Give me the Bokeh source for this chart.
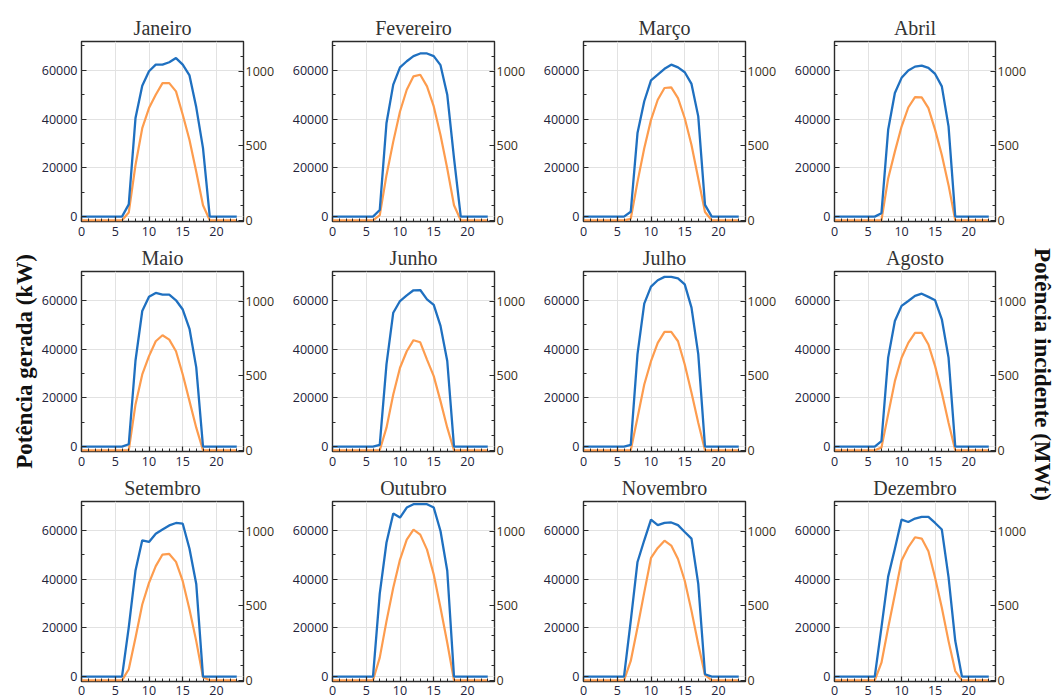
import math
from bokeh.plotting import figure
from bokeh.models import Range1d, LinearAxis, SingleIntervalTicker, Title
from bokeh.core.properties import value
from bokeh.layouts import column, row
from bokeh.embed import file_html
from bokeh.resources import INLINE

# ---------------- data ----------------
hours = list(range(24))
months = ["Janeiro", "Fevereiro", "Março", "Abril", "Maio", "Junho",
          "Julho", "Agosto", "Setembro", "Outubro", "Novembro", "Dezembro"]

# Potência gerada (kW) -- left axis (blue)
gerada_jan = [0, 0, 0, 0, 0, 0, 0, 5000, 40400, 53700, 59600, 62300, 62300, 63300, 65000, 62300, 57900, 44800, 28100, 0, 0, 0, 0, 0]
gerada_fev = [0, 0, 0, 0, 0, 0, 0, 2700, 38400, 54100, 61200, 63700, 65800, 66900, 66900, 65800, 62100, 50000, 24000, 0, 0, 0, 0, 0]
gerada_mar = [0, 0, 0, 0, 0, 0, 0, 2000, 34250, 47300, 55900, 58200, 60600, 62300, 61200, 59200, 54400, 41100, 4800, 0, 0, 0, 0, 0]
gerada_abr = [0, 0, 0, 0, 0, 0, 0, 1400, 35600, 50700, 56900, 59900, 61500, 61900, 61000, 58500, 53400, 37000, 0, 0, 0, 0, 0, 0]
gerada_mai = [0, 0, 0, 0, 0, 0, 0, 960, 35300, 55600, 61400, 63000, 62300, 62300, 60000, 56200, 48300, 32500, 0, 0, 0, 0, 0, 0]
gerada_jun = [0, 0, 0, 0, 0, 0, 0, 700, 33800, 54900, 59700, 62000, 64100, 64200, 60400, 58100, 49500, 35100, 0, 0, 0, 0, 0, 0]
gerada_jul = [0, 0, 0, 0, 0, 0, 0, 700, 37900, 58600, 65600, 68200, 69600, 69600, 69000, 66500, 57000, 37900, 0, 0, 0, 0, 0, 0]
gerada_ago = [0, 0, 0, 0, 0, 0, 0, 2300, 36500, 51500, 57700, 59700, 61800, 62700, 61400, 60000, 52200, 36500, 0, 0, 0, 0, 0, 0]
gerada_set = [0, 0, 0, 0, 0, 0, 0, 20200, 43500, 55900, 55200, 58600, 60300, 62000, 63000, 62700, 52400, 38000, 0, 0, 0, 0, 0, 0]
gerada_out = [0, 0, 0, 0, 0, 0, 0, 34000, 55000, 66900, 65200, 69300, 70700, 70700, 70700, 69300, 59700, 43400, 0, 0, 0, 0, 0, 0]
gerada_nov = [0, 0, 0, 0, 0, 0, 0, 22900, 47000, 55900, 64400, 62100, 63000, 63200, 62100, 59300, 56600, 38000, 960, 0, 0, 0, 0, 0]
gerada_dez = [0, 0, 0, 0, 0, 0, 0, 20200, 41000, 52400, 64400, 63400, 64800, 65500, 65500, 63000, 60300, 40800, 14700, 0, 0, 0, 0, 0]

# Potência incidente (MWt) -- right axis (orange)
incid_jan = [0, 0, 0, 0, 0, 0, 0, 52, 371, 618, 753, 843, 921, 921, 865, 708, 539, 326, 101, 0, 0, 0, 0, 0]
incid_fev = [0, 0, 0, 0, 0, 0, 0, 34, 303, 528, 730, 876, 966, 977, 899, 764, 573, 348, 101, 0, 0, 0, 0, 0]
incid_mar = [0, 0, 0, 0, 0, 0, 0, 10, 258, 483, 674, 809, 888, 892, 820, 685, 506, 281, 56, 0, 0, 0, 0, 0]
incid_abr = [0, 0, 0, 0, 0, 0, 0, 0, 281, 461, 629, 757, 827, 825, 753, 607, 438, 236, 0, 0, 0, 0, 0, 0]
incid_mai = [0, 0, 0, 0, 0, 0, 0, 0, 308, 509, 632, 732, 772, 743, 665, 509, 330, 152, 0, 0, 0, 0, 0, 0]
incid_jun = [0, 0, 0, 0, 0, 0, 0, 0, 152, 375, 554, 665, 739, 725, 609, 498, 330, 152, 0, 0, 0, 0, 0, 0]
incid_jul = [0, 0, 0, 0, 0, 0, 0, 0, 219, 442, 598, 721, 795, 795, 732, 576, 386, 185, 0, 0, 0, 0, 0, 0]
incid_ago = [0, 0, 0, 0, 0, 0, 0, 18, 241, 464, 621, 721, 788, 788, 710, 565, 386, 185, 0, 0, 0, 0, 0, 0]
incid_set = [0, 0, 0, 0, 0, 0, 0, 74, 286, 509, 654, 766, 844, 848, 795, 665, 475, 263, 20, 0, 0, 0, 0, 0]
incid_out = [0, 0, 0, 0, 0, 0, 0, 152, 397, 621, 810, 944, 1011, 978, 877, 710, 487, 252, 0, 0, 0, 0, 0, 0]
incid_nov = [0, 0, 0, 0, 0, 0, 0, 130, 354, 590, 821, 888, 937, 904, 814, 668, 466, 242, 36, 0, 0, 0, 0, 0]
incid_dez = [0, 0, 0, 0, 0, 0, 0, 118, 353, 576, 804, 893, 960, 951, 866, 688, 487, 263, 62, 0, 0, 0, 0, 0]

gerada = [gerada_jan, gerada_fev, gerada_mar, gerada_abr, gerada_mai, gerada_jun,
          gerada_jul, gerada_ago, gerada_set, gerada_out, gerada_nov, gerada_dez]
incidente = [incid_jan, incid_fev, incid_mar, incid_abr, incid_mai, incid_jun,
             incid_jul, incid_ago, incid_set, incid_out, incid_nov, incid_dez]

left_label = "Potência gerada (kW)"
right_label = "Potência incidente (MWt)"

# ---------------- layout / style ----------------
X_RANGE = (0, 24)
YL_RANGE = (-2000, 71800)
YR_RANGE = (-8, 1200)

W_FRAME = 162
H_FRAME = 180
B_LEFT = [81, 44, 44, 44]
B_RIGHT = [45, 45, 45, 33]
B_TOP = [41, 30, 30]
B_BOTTOM = [20, 20, 19]
X_STANDOFF = [5, 5, 4]
TITLE_SHIFT = [-4, 0, -1, 8, -5, -3, -7, 6, 0, -1.5, -3, 7]
RIGHT_STRIP_W = 25
TOTAL_H = 700

BLUE = "#1f70c0"
ORANGE = "#fd9c4e"
FRAME = "#2b2b2b"
GRID = "#e2e2e2"
TICK_FONT = "Open Sans"
TICK_SIZE = "12.5px"


def style_axis(ax, color, standoff):
    ax.axis_line_color = None
    ax.major_tick_in = 5
    ax.major_tick_out = 0
    ax.minor_tick_in = 3
    ax.minor_tick_out = 0
    ax.major_tick_line_color = FRAME
    ax.minor_tick_line_color = FRAME
    ax.major_tick_line_width = 1.2
    ax.minor_tick_line_width = 1.0
    ax.major_label_text_font = TICK_FONT
    ax.major_label_text_font_size = TICK_SIZE
    ax.major_label_text_color = color
    ax.major_label_standoff = standoff


def make_panel(i):
    r, c = divmod(i, 4)
    p = figure(width=B_LEFT[c] + W_FRAME + B_RIGHT[c],
               height=B_TOP[r] + H_FRAME + B_BOTTOM[r],
               x_range=Range1d(*X_RANGE), y_range=Range1d(*YL_RANGE),
               output_backend="svg", toolbar_location=None, tools="",
               min_border_left=B_LEFT[c], min_border_right=B_RIGHT[c],
               min_border_top=B_TOP[r], min_border_bottom=B_BOTTOM[r],
               title=months[i])
    p.extra_y_ranges = {"inc": Range1d(*YR_RANGE)}
    p.add_layout(LinearAxis(y_range_name="inc"), "right")

    p.title.align = "center"
    p.title.offset = TITLE_SHIFT[i]
    p.title.text_font = "Liberation Serif"
    p.title.text_font_size = "20px"
    p.title.text_font_style = "normal"
    p.title.text_color = "#333333"
    p.title.standoff = 5

    p.outline_line_color = FRAME
    p.outline_line_width = 1.4
    p.outline_line_alpha = 1.0

    xa = p.xaxis[0]
    xa.ticker = SingleIntervalTicker(interval=5, num_minor_ticks=5)
    style_axis(xa, "#22223a", X_STANDOFF[r])

    yl, yr = p.yaxis[0], p.yaxis[1]
    yl.ticker = SingleIntervalTicker(interval=20000, num_minor_ticks=2)
    style_axis(yl, "#22223a", 4)
    yr.ticker = SingleIntervalTicker(interval=500, num_minor_ticks=5)
    style_axis(yr, "#3a3020", 2)

    p.xgrid.grid_line_color = GRID
    p.ygrid.grid_line_color = GRID

    p.line(hours, incidente[i], y_range_name="inc", line_color=ORANGE, line_width=2.2)
    p.line(hours, gerada[i], line_color=BLUE, line_width=2.3)

    if i == 4:
        p.add_layout(Title(text=left_label, align="center", standoff=4,
                           text_font="Liberation Serif", text_font_size="23px",
                           text_font_style="bold", text_color="#111111"), "left")
    return p


panels = [make_panel(i) for i in range(12)]
grid = column(*[row(*panels[r * 4:(r + 1) * 4]) for r in range(3)])

# narrow strip on the right holding the right-hand axis title
strip = figure(width=RIGHT_STRIP_W, height=TOTAL_H,
               x_range=Range1d(0, RIGHT_STRIP_W), y_range=Range1d(0, TOTAL_H),
               output_backend="svg", toolbar_location=None, tools="",
               x_axis_location=None, y_axis_location=None,
               min_border=0, min_border_left=0, min_border_right=0,
               min_border_top=0, min_border_bottom=0)
strip.outline_line_color = None
strip.grid.visible = False
strip.text(x=[13], y=[TOTAL_H - 374], text=[right_label], angle=-math.pi / 2,
           text_align="center", text_baseline="middle",
           text_font=value("Liberation Serif"), text_font_size="23px",
           text_font_style="bold", text_color="#111111")

layout = row(grid, strip)

open("out.html", "w").write(file_html(layout, INLINE))
